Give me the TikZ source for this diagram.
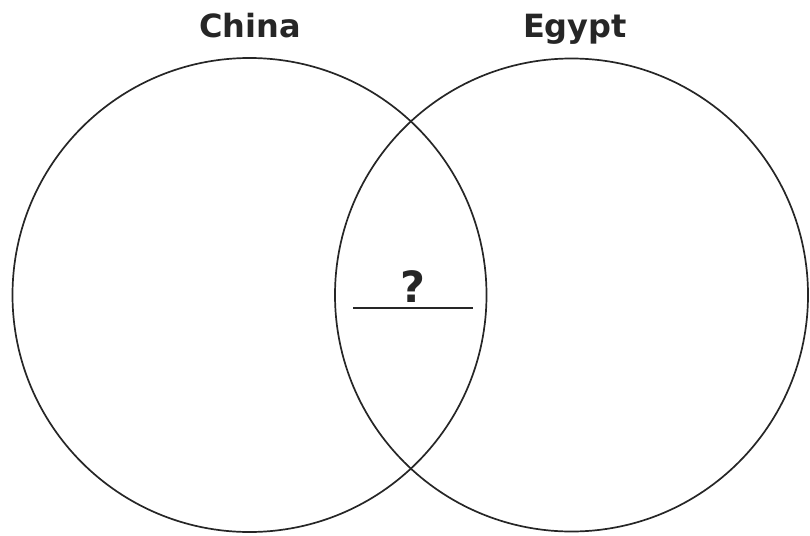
\documentclass[tikz,border=0pt]{standalone}
\usepackage{fontspec}
\setmainfont{DejaVu Sans}
\begin{document}
\begin{tikzpicture}[x=1pt,y=-1pt,
  ring/.style={draw=black!85,line width=1.7pt},
  title/.style={font=\fontsize{32}{36}\selectfont\bfseries,text=black!85,anchor=base},
  qmark/.style={font=\fontsize{43}{46}\selectfont\bfseries,text=black!85,anchor=base}]
\useasboundingbox (0,0) rectangle (810,535);
\draw[ring] (249.5,295) circle[radius=237];
\draw[ring] (571.5,295) circle[radius=236.5];
\node[title] (china) at (250,37.5) {China};
\node[title] (egypt) at (575,37.5) {Egypt};
\node[qmark] (q) at (413,302) {?};
\coordinate (la) at (353,308);
\coordinate (lb) at (473,308);
\draw[ring] (la) -- (lb);
\end{tikzpicture}
\end{document}
